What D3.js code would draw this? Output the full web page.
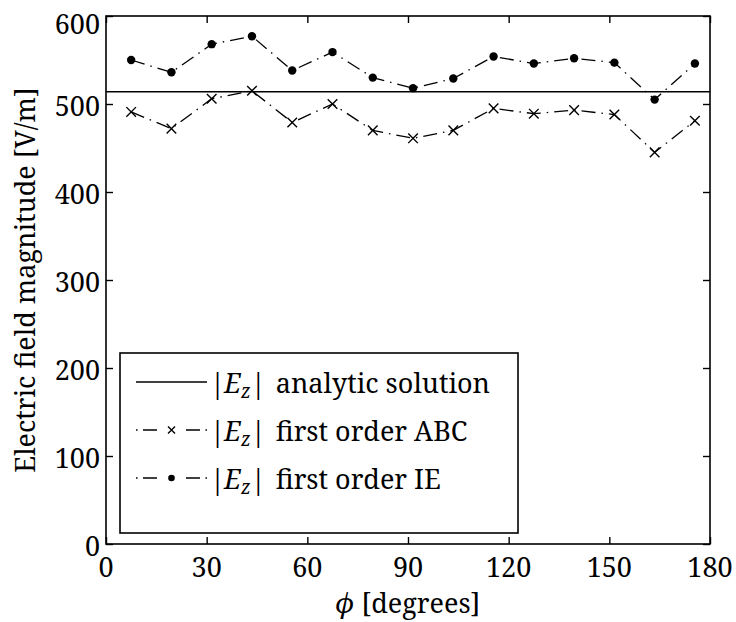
<!DOCTYPE html>
<html>
<head>
<meta charset="utf-8">
<script src="https://cdn.jsdelivr.net/npm/d3@7"></script>
<style>
  html, body { margin: 0; padding: 0; background: #fff; }
  svg { display: block; }
</style>
</head>
<body>
<svg id="chart" width="736" height="622" style="font-family: 'Noto Serif', 'DejaVu Serif', serif;"></svg>
<script>
// Sample angles (degrees) and field magnitudes (V/m)
const phi = [7.5, 19.5, 31.5, 43.5, 55.5, 67.5, 79.5, 91.5, 103.5, 115.5, 127.5, 139.5, 151.5, 163.5, 175.5];
const abc = [491, 472, 506, 515, 479, 500, 470, 461, 470, 495, 489, 493, 488, 445, 481];
const ie  = [550, 536, 568, 577, 538, 559, 530, 518, 529, 554, 546, 552, 547, 505, 546];
const analytic = 514;

const xTicks = [0, 30, 60, 90, 120, 150, 180];
const yTicks = [0, 100, 200, 300, 400, 500, 600];

const svg = d3.select("#chart");
const L = 106, R = 710, T = 16, B = 544;

const x = d3.scaleLinear().domain([0, 180]).range([L, R]);
const y = d3.scaleLinear().domain([0, 600]).range([B, T]);

const fs = 27;
const dashDot = "14,6,1.5,6";

// inward ticks on all four sides
const g = svg.append("g");
g.append("g").attr("transform", `translate(0,${B})`)
  .call(d3.axisBottom(x).tickValues(xTicks).tickSizeInner(-7).tickSizeOuter(0).tickFormat(""));
g.append("g").attr("transform", `translate(0,${T})`)
  .call(d3.axisTop(x).tickValues(xTicks).tickSizeInner(-7).tickSizeOuter(0).tickFormat(""));
g.append("g").attr("transform", `translate(${L},0)`)
  .call(d3.axisLeft(y).tickValues(yTicks).tickSizeInner(-7).tickSizeOuter(0).tickFormat(""));
g.append("g").attr("transform", `translate(${R},0)`)
  .call(d3.axisRight(y).tickValues(yTicks).tickSizeInner(-7).tickSizeOuter(0).tickFormat(""));
g.selectAll(".domain").remove();
g.selectAll(".tick line").attr("stroke", "#000").attr("stroke-width", 1.4);

// tick labels
svg.append("g").selectAll("text").data(xTicks).join("text")
  .attr("x", d => x(d)).attr("y", 577)
  .attr("text-anchor", "middle").attr("font-size", fs)
  .text(d => d);
svg.append("g").selectAll("text").data(yTicks).join("text")
  .attr("x", 100).attr("y", d => Math.max(y(d) + 2, 24))
  .attr("dy", "0.36em")
  .attr("text-anchor", "end").attr("font-size", fs)
  .text(d => d);

// axis titles
const xt = svg.append("text").attr("x", (L + R) / 2).attr("y", 613)
  .attr("text-anchor", "middle").attr("font-size", fs);
xt.append("tspan").attr("font-style", "italic").text("\u03D5");
xt.append("tspan").text(" [degrees]");

svg.append("text")
  .attr("transform", `translate(35,${(T + B) / 2}) rotate(-90)`)
  .attr("text-anchor", "middle").attr("font-size", fs)
  .text("Electric field magnitude [V/m]");

// analytic reference
svg.append("line")
  .attr("x1", x(0)).attr("x2", x(180))
  .attr("y1", y(analytic)).attr("y2", y(analytic))
  .attr("stroke", "#000").attr("stroke-width", 1.5);

const line = d3.line().x((d, i) => x(phi[i])).y(d => y(d));

// first order ABC
svg.append("path").datum(abc).attr("d", line)
  .attr("fill", "none").attr("stroke", "#000").attr("stroke-width", 1.3)
  .attr("stroke-dasharray", dashDot);
const cross = (sel, s) => sel.append("path")
  .attr("d", `M${-s},${-s}L${s},${s}M${-s},${s}L${s},${-s}`)
  .attr("stroke", "#000").attr("stroke-width", 1.4).attr("fill", "none");
svg.append("g").selectAll("g").data(abc).join("g")
  .attr("transform", (d, i) => `translate(${x(phi[i])},${y(d)})`)
  .each(function () { cross(d3.select(this), 4.8); });

// first order IE
svg.append("path").datum(ie).attr("d", line)
  .attr("fill", "none").attr("stroke", "#000").attr("stroke-width", 1.3)
  .attr("stroke-dasharray", dashDot);
svg.append("g").selectAll("circle").data(ie).join("circle")
  .attr("cx", (d, i) => x(phi[i])).attr("cy", d => y(d))
  .attr("r", 4.2).attr("fill", "#000");

// plot frame
svg.append("rect").attr("x", L).attr("y", T).attr("width", R - L).attr("height", B - T)
  .attr("fill", "none").attr("stroke", "#000").attr("stroke-width", 1.6);

// legend
const leg = svg.append("g");
leg.append("rect").attr("x", 120).attr("y", 353).attr("width", 398).attr("height", 180)
  .attr("fill", "#fff").attr("stroke", "#000").attr("stroke-width", 1.6);

const entries = [
  { label: "analytic solution", kind: "solid", yc: 382 },
  { label: "first order ABC", kind: "cross", yc: 430 },
  { label: "first order IE", kind: "dot", yc: 478 }
];
entries.forEach(e => {
  const lx1 = 136, lx2 = 207, mx = (lx1 + lx2) / 2;
  const ln = leg.append("line").attr("x1", lx1).attr("x2", lx2)
    .attr("y1", e.yc).attr("y2", e.yc)
    .attr("stroke", "#000").attr("stroke-width", 1.3);
  if (e.kind !== "solid") ln.attr("stroke-dasharray", "1.5,5.5,14,29,14,5.5,1.5");
  if (e.kind === "cross") {
    const c = leg.append("g").attr("transform", `translate(${mx},${e.yc})`);
    cross(c, 3.5);
  }
  if (e.kind === "dot") {
    leg.append("circle").attr("cx", mx).attr("cy", e.yc).attr("r", 3.3).attr("fill", "#000");
  }
  const t = leg.append("text").attr("x", 210).attr("y", e.yc + 11).attr("font-size", fs);
  t.append("tspan").text("|");
  t.append("tspan").attr("font-style", "italic").attr("dx", -1).text("E");
  t.append("tspan").attr("font-style", "italic").attr("font-size", 19).attr("dy", 5).text("z");
  t.append("tspan").attr("dy", -5).attr("dx", 0).text("|");
  t.append("tspan").attr("dx", 10).text(e.label);
});
</script>
</body>
</html>
